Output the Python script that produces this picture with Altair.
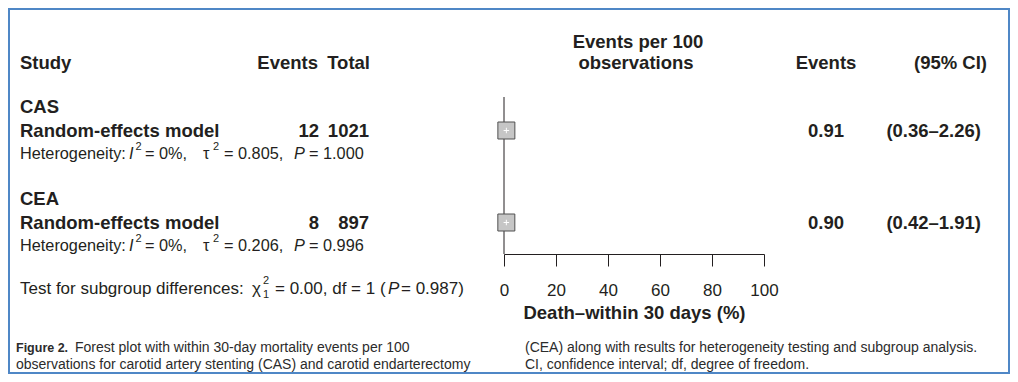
import altair as alt
import pandas as pd

# ---- data ----
groups = ["CAS", "CEA"]
events = [12, 8]
totals = [1021, 897]
est = [0.91, 0.90]
lower = [0.36, 0.42]
upper = [2.26, 1.91]
i2 = ["0%", "0%"]
tau2 = ["0.805", "0.206"]
het_p = ["1.000", "0.996"]
x_ticks = [0, 20, 40, 60, 80, 100]
x_title = "Death\u2013within 30 days (%)"

df = pd.DataFrame({
    "group": groups,
    "events": [str(e) for e in events],
    "total": [str(t) for t in totals],
    "est": est,
    "lower": lower,
    "upper": upper,
})
df["model"] = "Random-effects model"
df["est_txt"] = [f"{v:.2f}" for v in est]
df["ci_txt"] = [f"({l:.2f}\u2013{u:.2f})" for l, u in zip(lower, upper)]
df["i2_txt"] = ["= " + v + "," for v in i2]
df["tau_txt"] = ["= " + v + "," for v in tau2]
df["p_txt"] = ["= " + v for v in het_p]

one = pd.DataFrame({"k": [0]})

FONT = "Liberation Sans, Arial, Helvetica, sans-serif"
INK = "#231f20"
CAP = "#2b2b2b"
BOLD = 18.5
REG = 17
HET = 16.3

xs = alt.Scale(domain=[0, 100], range=[496, 756])
ys = alt.Scale(type="point", domain=groups, range=[122.5, 214.5], padding=0)


def Y():
    return alt.Y("group:N", scale=ys, axis=None)


def label(s, x, y, size=REG, weight="normal", style="normal", align="left",
          color=INK, font=FONT):
    return alt.Chart(one).mark_text(
        font=font, fontSize=size, fontWeight=weight, fontStyle=style,
        align=align, baseline="middle", color=color
    ).encode(x=alt.value(x), y=alt.value(y), text=alt.value(s))


def col(field, x, dy=0, size=REG, weight="normal", style="normal", align="left"):
    return alt.Chart(df).mark_text(
        font=FONT, fontSize=size, fontWeight=weight, fontStyle=style,
        align=align, baseline="middle", color=INK, dy=dy
    ).encode(x=alt.value(x), y=Y(), text=f"{field}:N")


def const_row(s, x, dy=0, size=REG, weight="normal", style="normal", align="left"):
    return alt.Chart(df).mark_text(
        font=FONT, fontSize=size, fontWeight=weight, fontStyle=style,
        align=align, baseline="middle", color=INK, dy=dy, text=s
    ).encode(x=alt.value(x), y=Y())


layers = []

# frame
layers.append(alt.Chart(one).mark_rect(fillOpacity=0, stroke="#4f87c6", strokeWidth=2).encode(
    x=alt.value(1), x2=alt.value(1001), y=alt.value(1), y2=alt.value(365)))

# CI rules (carry the axis)
layers.append(alt.Chart(df).mark_rule(color=INK, strokeWidth=1).encode(
    x=alt.X("lower:Q", scale=xs, axis=alt.Axis(
        values=x_ticks, title=x_title, grid=False, labelFlush=False, labelOverlap=False,
        domainColor=INK, domainWidth=1, tickColor=INK, tickWidth=1, tickSize=12,
        labelFont=FONT, labelFontSize=17, labelColor=INK, labelPadding=16,
        titleFont=FONT, titleFontSize=BOLD, titleFontWeight="bold", titleColor=INK,
        titlePadding=5)),
    x2="upper:Q",
    y=Y()))

# reference line at 0
layers.append(alt.Chart(one).mark_rule(color=INK, strokeWidth=1).encode(
    x=alt.datum(0), y=alt.value(89), y2=alt.value(246)))

# boxes
layers.append(alt.Chart(df).mark_square(size=289, fill="#c6c6c6", stroke="#505050",
                                        strokeWidth=1, opacity=1).encode(
    x=alt.X("est:Q"), y=Y()))
layers.append(alt.Chart(df).mark_point(shape="M-1,0L1,0M0,-1L0,1", stroke="white",
                                       strokeWidth=1, size=30, opacity=1).encode(
    x=alt.X("est:Q"), y=Y()))

# header
layers += [
    label("Study", 12, 55, BOLD, "bold"),
    label("Events", 310, 55, BOLD, "bold", align="right"),
    label("Total", 362, 55, BOLD, "bold", align="right"),
    label("Events per 100", 630, 34, BOLD, "bold", align="center"),
    label("observations", 628, 55, BOLD, "bold", align="center"),
    label("Events", 818, 55, BOLD, "bold", align="center"),
    label("(95% CI)", 979, 55, BOLD, "bold", align="right"),
]

# rows
layers += [
    col("group", 12, dy=-24, size=BOLD, weight="bold"),
    col("model", 12, size=BOLD, weight="bold"),
    col("events", 311, size=BOLD, weight="bold", align="right"),
    col("total", 361, size=BOLD, weight="bold", align="right"),
    col("est_txt", 818, size=BOLD, weight="bold", align="center"),
    col("ci_txt", 973, size=BOLD, weight="bold", align="right"),
    const_row("Heterogeneity:", 12, dy=23.5, size=HET),
    const_row("I", 121, dy=23.5, size=HET, style="italic"),
    const_row("2", 127.5, dy=16.5, size=11),
    col("i2_txt", 137, dy=23.5, size=HET),
    const_row("\u03c4", 195, dy=23.5, size=HET),
    const_row("2", 205, dy=16.5, size=11),
    col("tau_txt", 216, dy=23.5, size=HET),
    const_row("P", 286, dy=23.5, size=HET, style="italic"),
    col("p_txt", 301, dy=23.5, size=HET),
]

# subgroup test line
layers += [
    label("Test for subgroup differences:", 12, 281),
    label("\u03c7", 244, 281),
    label("2", 255, 273, 11),
    label("1", 255, 287, 11),
    label("= 0.00, df = 1 (", 267, 281),
    label("P", 380, 281, style="italic"),
    label("= 0.987)", 393, 281),
]

# caption
layers += [
    label("Figure 2.", 8, 340, 12.5, "bold", color=CAP),
    label("Forest plot with within 30-day mortality events per 100", 67, 340, 14, color=CAP),
    label("observations for carotid artery stenting (CAS) and carotid endarterectomy", 8, 356.5, 14, color=CAP),
    label("(CEA) along with results for heterogeneity testing and subgroup analysis.", 517, 340, 14, color=CAP),
    label("CI, confidence interval; df, degree of freedom.", 517, 356.5, 14, color=CAP),
]

chart = alt.layer(*layers).properties(
    width=1002, height=246,
    autosize=alt.AutoSizeParams(type="none"),
    padding={"left": 0, "top": 0, "right": 0, "bottom": 120},
).configure_view(stroke=None)

chart.save("out.html", embed_options={"renderer": "svg", "actions": False})
